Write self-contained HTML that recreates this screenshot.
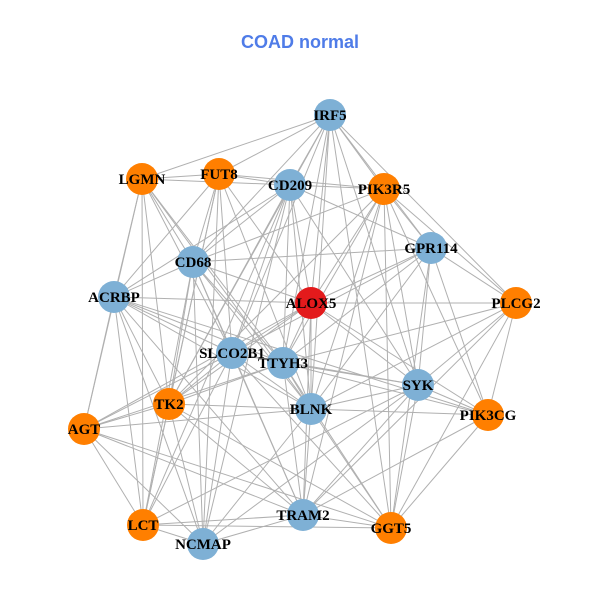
<!DOCTYPE html>
<html><head><meta charset="utf-8"><style>
html,body{margin:0;padding:0;background:#fff;}
svg{display:block;}
</style></head><body>
<svg id="g" width="600" height="600" xmlns="http://www.w3.org/2000/svg">
<rect width="600" height="600" fill="#fff"/>
<text x="300" y="48" text-anchor="middle" font-family="Liberation Sans, sans-serif" font-weight="bold" font-size="18" fill="#4f7ce8">COAD normal</text>
<g id="edges" stroke="#b0b0b0" stroke-width="1"></g>
<g id="nodes"></g>
<g id="labels" font-family="Liberation Serif, serif" font-weight="bold" font-size="15" fill="#000" text-anchor="middle"></g>
</svg>
<script>
var N={IRF5:[330,115,'b'],LGMN:[142,179,'o'],FUT8:[219,174,'o'],CD209:[290,185,'b'],PIK3R5:[384,189,'o'],GPR114:[431,248,'b'],CD68:[193,262,'b'],ACRBP:[114,297,'b'],ALOX5:[311,303,'r'],PLCG2:[516,303,'o'],SLCO2B1:[232,353,'b'],TTYH3:[283,363,'b'],SYK:[418,385,'b'],TK2:[169,404,'o'],BLNK:[311,409,'b'],PIK3CG:[488,415,'o'],AGT:[84,429,'o'],TRAM2:[303,515,'b'],LCT:[143,525,'o'],GGT5:[391,528,'o'],NCMAP:[203,544,'b']};
var E={IRF5:'LGMN FUT8 CD209 PIK3R5 GPR114 PLCG2 ALOX5 BLNK SLCO2B1 TTYH3 CD68 SYK TK2 GGT5',
LGMN:'FUT8 CD209 ACRBP AGT TK2 LCT SLCO2B1 TTYH3 BLNK CD68',
FUT8:'CD209 PIK3R5 ACRBP CD68 TK2 LCT SLCO2B1 NCMAP BLNK ALOX5',
CD209:'PIK3R5 GPR114 CD68 ACRBP SLCO2B1 TTYH3 BLNK ALOX5 TK2 LCT NCMAP SYK',
PIK3R5:'CD68 GPR114 PLCG2 ALOX5 BLNK TTYH3 SYK PIK3CG GGT5 TRAM2 TK2',
GPR114:'CD68 PLCG2 ALOX5 SYK BLNK PIK3CG GGT5 TTYH3 SLCO2B1',
CD68:'ACRBP ALOX5 SLCO2B1 TTYH3 BLNK TK2 LCT NCMAP TRAM2',
ACRBP:'ALOX5 SLCO2B1 TTYH3 BLNK TK2 AGT LCT NCMAP TRAM2',
ALOX5:'PLCG2 SLCO2B1 TTYH3 BLNK SYK PIK3CG TK2 AGT TRAM2',
PLCG2:'SYK PIK3CG GGT5 TTYH3 BLNK TRAM2',
SLCO2B1:'TTYH3 BLNK SYK TK2 AGT LCT NCMAP TRAM2 GGT5',
TTYH3:'BLNK SYK PIK3CG TK2 AGT GGT5 TRAM2',
SYK:'BLNK PIK3CG GGT5 TRAM2 LCT NCMAP',
TK2:'BLNK AGT LCT NCMAP TRAM2 GGT5',
BLNK:'PIK3CG AGT TRAM2 GGT5 NCMAP',
PIK3CG:'GGT5 TRAM2 ACRBP',
AGT:'LCT NCMAP TRAM2 GGT5',
TRAM2:'LCT NCMAP GGT5',
LCT:'NCMAP GGT5'};
var ns='http://www.w3.org/2000/svg';
function el(t,a,p){var e=document.createElementNS(ns,t);for(var k in a)e.setAttribute(k,a[k]);document.getElementById(p).appendChild(e);return e;}
for(var a in E){E[a].split(' ').forEach(function(b){var p=N[a],q=N[b];el('line',{x1:p[0],y1:p[1],x2:q[0],y2:q[1]},'edges');});}
var C={b:'#7eb0d5',o:'#ff7f00',r:'#e31a1c'};
for(var k in N){var p=N[k];el('circle',{cx:p[0],cy:p[1],r:16,fill:C[p[2]]},'nodes');var t=el('text',{x:p[0],y:p[1]+5},'labels');t.textContent=k;}
</script>
</body></html>
